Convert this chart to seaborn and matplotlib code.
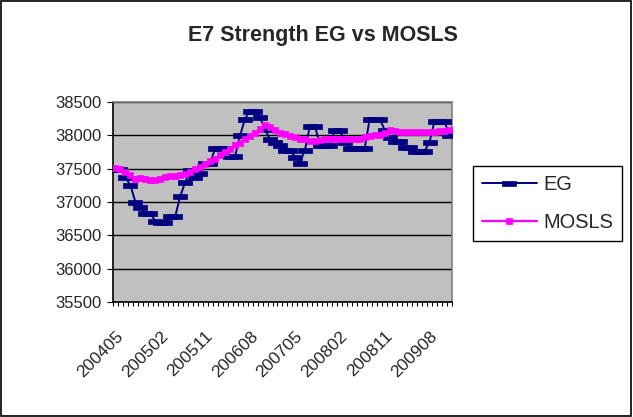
import numpy as np
import pandas as pd
import matplotlib
matplotlib.use("Agg")
import matplotlib.pyplot as plt
import seaborn as sns
from matplotlib.patches import Rectangle

# ---- data ----
periods = [f"{y}{m:02d}" for y in range(2004, 2010) for m in range(1, 13)
           if not (y == 2004 and m < 5)]
tick_labels = ["200405", "200502", "200511", "200608", "200705", "200802", "200811", "200908"]

eg = [37500, 37500, 37370, 37250, 37000, 36920, 36830, 36830, 36710, 36700,
      36700, 36790, 36790, 37090, 37300, 37480, 37370, 37430, 37580, 37580,
      37810, 37810, 37810, 37690, 37690, 38000, 38250, 38370, 38370, 38270,
      38090, 37940, 37900, 37860, 37780, 37780, 37680, 37590, 37780, 38140,
      38140, 37860, 37860, 37860, 38080, 38080, 37900, 37810, 37810, 37810,
      37810, 38250, 38250, 38250, 38080, 37980, 37910, 37910, 37830, 37830,
      37760, 37760, 37760, 37900, 38210, 38210, 38210, 38000]

mosls = [37510, 37490, 37450, 37400, 37350, 37360, 37340, 37330, 37330, 37340,
         37370, 37390, 37390, 37400, 37420, 37450, 37490, 37530, 37570, 37610,
         37650, 37700, 37750, 37800, 37850, 37890, 37940, 37990, 38040, 38090,
         38150, 38120, 38080, 38040, 38015, 37990, 37970, 37950, 37940, 37920,
         37915, 37930, 37940, 37940, 37945, 37950, 37950, 37950, 37950, 37950,
         37980, 37990, 38000, 38000, 38030, 38080, 38060, 38050, 38050, 38050,
         38050, 38050, 38050, 38055, 38055, 38060, 38060, 38080]

df = pd.DataFrame({"pos": np.arange(len(periods)), "period": periods,
                   "EG": eg, "MOSLS": mosls})

# ---- style ----
sns.set_style("white")
plt.rcParams["font.family"] = ["Liberation Sans", "DejaVu Sans"]

fig = plt.figure(figsize=(6.33, 4.17), dpi=100)
fig.patch.set_facecolor("white")
ax = fig.add_axes([0.1785, 0.2758, 0.5355, 0.4796])
ax.set_facecolor("#C0C0C0")

dash = [(-1.0, -0.36), (1.0, -0.36), (1.0, 0.36), (-1.0, 0.36), (-1.0, -0.36)]

sns.lineplot(data=df, x="pos", y="EG", ax=ax, color="#000080", linewidth=1.4,
             marker=dash, markersize=10, markeredgecolor="#000080",
             markerfacecolor="#000080", markeredgewidth=0.5, label="EG", zorder=3)
sns.lineplot(data=df, x="pos", y="MOSLS", ax=ax, color="#FF00FF", linewidth=1.6,
             marker="s", markersize=3.8, markeredgecolor="#FF00FF",
             markerfacecolor="#FF00FF", markeredgewidth=0.5, label="MOSLS", zorder=4)

ax.set_xlim(-0.5, len(periods) - 0.5)
ax.set_ylim(35500, 38500)
ax.set_xlabel("")
ax.set_ylabel("")

yt = np.arange(35500, 38501, 500)
ax.set_yticks(yt)
ax.set_yticklabels([str(v) for v in yt], fontsize=12)
ax.yaxis.grid(True, color="black", linewidth=1)
ax.xaxis.grid(False)
ax.set_axisbelow(True)

major_pos = [periods.index(t) for t in tick_labels]
ax.set_xticks(major_pos)
ax.set_xticklabels(tick_labels, fontsize=12.5, rotation=45, ha="right",
                   va="top", rotation_mode="anchor")
ax.set_xticks(np.arange(-0.5, len(periods), 1), minor=True)
ax.tick_params(axis="x", which="major", length=0, pad=19)
ax.tick_params(axis="x", which="minor", length=3, width=0.8, direction="out",
               color="black", bottom=True)
ax.tick_params(axis="y", which="major", length=4.5, width=0.8, direction="out",
               color="black", left=True, pad=3.5)

for s in ["left", "bottom"]:
    ax.spines[s].set_color("black")
    ax.spines[s].set_linewidth(1.2)
for s in ["top", "right"]:
    ax.spines[s].set_color("#808080")
    ax.spines[s].set_linewidth(1.2)

leg = ax.legend(loc="center", bbox_to_anchor=(0.865, 0.513),
                bbox_transform=fig.transFigure, frameon=True, fancybox=False,
                edgecolor="black", framealpha=1, handlelength=2.75,
                labelspacing=0.95, borderpad=0.45, handletextpad=0.35,
                borderaxespad=0, fontsize=14.4)
leg.get_frame().set_linewidth(1.0)

fig.text(0.51, 0.916, "E7 Strength EG vs MOSLS", ha="center", va="center",
         fontsize=15.5, fontweight="bold")

fig.patches.append(Rectangle((0.002, 0.003), 0.995, 0.994, transform=fig.transFigure,
                             fill=False, edgecolor="black", linewidth=1.2))

fig.savefig("out.png", dpi=100, facecolor="white")
